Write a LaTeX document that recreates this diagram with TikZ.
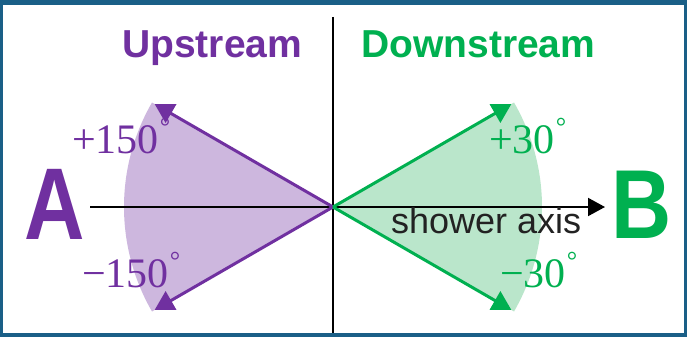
\documentclass[tikz,border=0pt]{standalone}
\usepackage{fontspec}
\usetikzlibrary{arrows.meta,calc}
\newfontfamily\hdfont{Liberation Sans}
\newfontfamily\angfontfam{Liberation Serif}
\definecolor{framecol}{RGB}{26,95,135}
\definecolor{upcol}{RGB}{112,48,160}
\definecolor{downcol}{RGB}{0,176,80}
\definecolor{upfill}{RGB}{205,183,222}
\definecolor{downfill}{RGB}{186,230,203}
\definecolor{axiscol}{RGB}{34,34,34}
\newcommand{\mydeg}{\hspace{1pt}\raisebox{0.42em}{\fontsize{26}{26}\selectfont °}}
\tikzset{
  lbl/.style={inner sep=0pt, anchor=base west},
  conearrow/.style={line width=3pt, -{Triangle[length=19pt,width=21pt]}},
  headfont/.style={font=\hdfont\bfseries\fontsize{39}{39}\selectfont},
  angfont/.style={font=\angfontfam\fontsize{42}{42}\selectfont},
}
\begin{document}
\begin{tikzpicture}[x=1pt,y=-1pt]
\useasboundingbox (0,0) rectangle (687,337);
\fill[framecol] (0,0) rectangle (687,337);
\fill[white] (3,5) rectangle (684,333);
\coordinate (C) at (333,207);
% sectors
\fill[upfill] (C) -- ($(C)+(150:209)$) arc[start angle=150, end angle=210, radius=209] -- cycle;
\fill[downfill] (C) -- ($(C)+(-30:209)$) arc[start angle=-30, end angle=30, radius=209] -- cycle;
% axes
\coordinate (axL) at (90,207);
\coordinate (axR) at (605,207);
\coordinate (vT) at (333,17);
\coordinate (vB) at (333,333);
\draw[line width=2pt] (vT) -- (vB);
\draw[line width=2pt, -{Triangle[length=17pt,width=18pt]}] (axL) -- (axR);
% arrows
\coordinate (PU) at ($(C)+(150:206)$);
\coordinate (PD) at ($(C)+(210:206)$);
\coordinate (GU) at ($(C)+(30:206)$);
\coordinate (GD) at ($(C)+(-30:206)$);
\draw[conearrow, upcol] (C) -- (PU);
\draw[conearrow, upcol] (C) -- (PD);
\draw[conearrow, downcol] (C) -- (GU);
\draw[conearrow, downcol] (C) -- (GD);
% texts
\node[lbl, headfont, text=upcol] (up) at (122,57) {Upstream};
\node[lbl, headfont, text=downcol] (down) at (361,57) {Downstream};
\node[lbl, text=upcol, font=\hdfont\bfseries\fontsize{102}{102}\selectfont, xscale=0.82] (A) at (24,239) {A};
\node[lbl, text=downcol, font=\hdfont\bfseries\fontsize{98}{98}\selectfont, xscale=0.85] (B) at (611,238) {B};
\node[lbl, text=axiscol, font=\hdfont\fontsize{36}{36}\selectfont] (sa) at (391,233) {shower axis};
\node[lbl, angfont, text=upcol] (p150) at (72,153) {+150\mydeg};
\node[lbl, angfont, text=upcol] (m150) at (82,287) {−150\mydeg};
\node[lbl, angfont, text=downcol] (p30) at (489,153) {+30\mydeg};
\node[lbl, angfont, text=downcol] (m30) at (500,287) {−30\mydeg};
\end{tikzpicture}
\end{document}
